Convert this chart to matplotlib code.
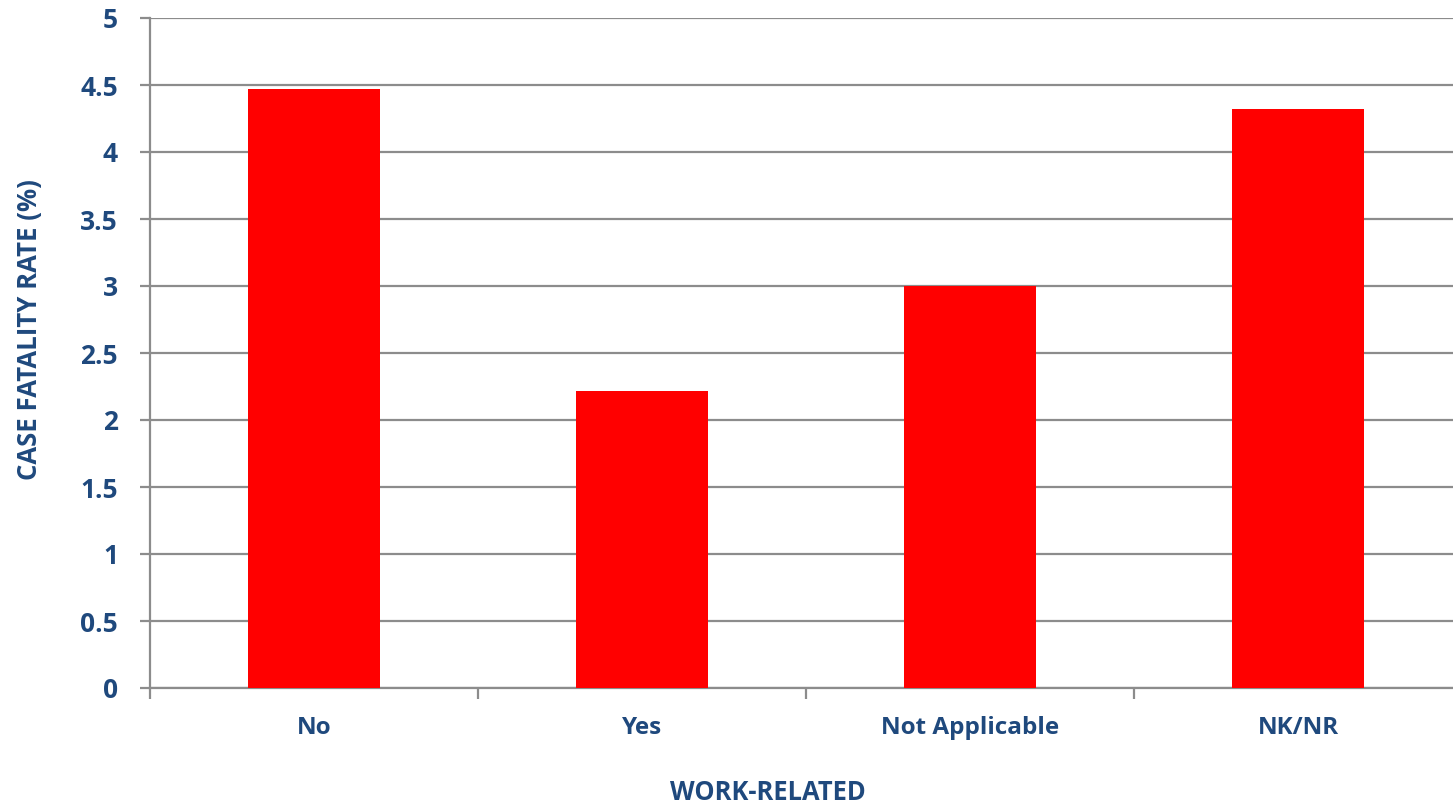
import matplotlib
matplotlib.use("Agg")
import matplotlib.pyplot as plt
import numpy as np

categories = ["No", "Yes", "Not Applicable", "NK/NR"]
values = [4.47, 2.22, 3.0, 4.32]
yticks = [0, 0.5, 1, 1.5, 2, 2.5, 3, 3.5, 4, 4.5, 5]
ytick_labels = ["0", "0.5", "1", "1.5", "2", "2.5", "3", "3.5", "4", "4.5", "5"]

W, H = 1453, 807
fig = plt.figure(figsize=(W / 100, H / 100), dpi=100)
left, right, top, bottom = 150, 1462, 18, 688
ax = fig.add_axes([left / W, 1 - bottom / H, (right - left) / W, (bottom - top) / H])

txt = "#1F497D"
grid = "#8C8C8C"
font = "Open Sans"

x = np.arange(len(categories))
ax.bar(x, values, width=0.4, color="#FF0000", zorder=3)
ax.set_xlim(-0.5, len(categories) - 0.5)
ax.set_ylim(0, 5)
ax.set_yticks(yticks)
ax.set_yticklabels(ytick_labels, fontsize=19, fontweight="bold", color=txt, family=font)
ax.yaxis.grid(True, color=grid, linewidth=1.6, zorder=0)
ax.set_axisbelow(True)

ax.set_xticks(np.arange(-0.5, len(categories), 1.0))
ax.set_xticklabels([])
ax.set_xticks(x, minor=True)
ax.set_xticklabels(categories, minor=True, fontsize=17.5, fontweight="bold", color=txt, family=font)
ax.tick_params(axis="x", which="minor", length=0, pad=20)
ax.tick_params(axis="x", which="major", length=8, width=1.6, color=grid, direction="out")
ax.tick_params(axis="y", length=7, width=1.6, color=grid, direction="out", pad=16)

for s in ["top", "right"]:
    ax.spines[s].set_visible(False)
for s in ["left", "bottom"]:
    ax.spines[s].set_color(grid)
    ax.spines[s].set_linewidth(1.6)

fig.text(30 / W, 1 - 330 / H, "CASE FATALITY RATE (%)", rotation=90, ha="center", va="center",
         fontsize=18.5, fontweight="bold", color=txt, family=font)
fig.text(768 / W, 1 - 793 / H, "WORK-RELATED", ha="center", va="center",
         fontsize=18.4, fontweight="bold", color=txt, family=font)

fig.savefig("out.png", dpi=100)
